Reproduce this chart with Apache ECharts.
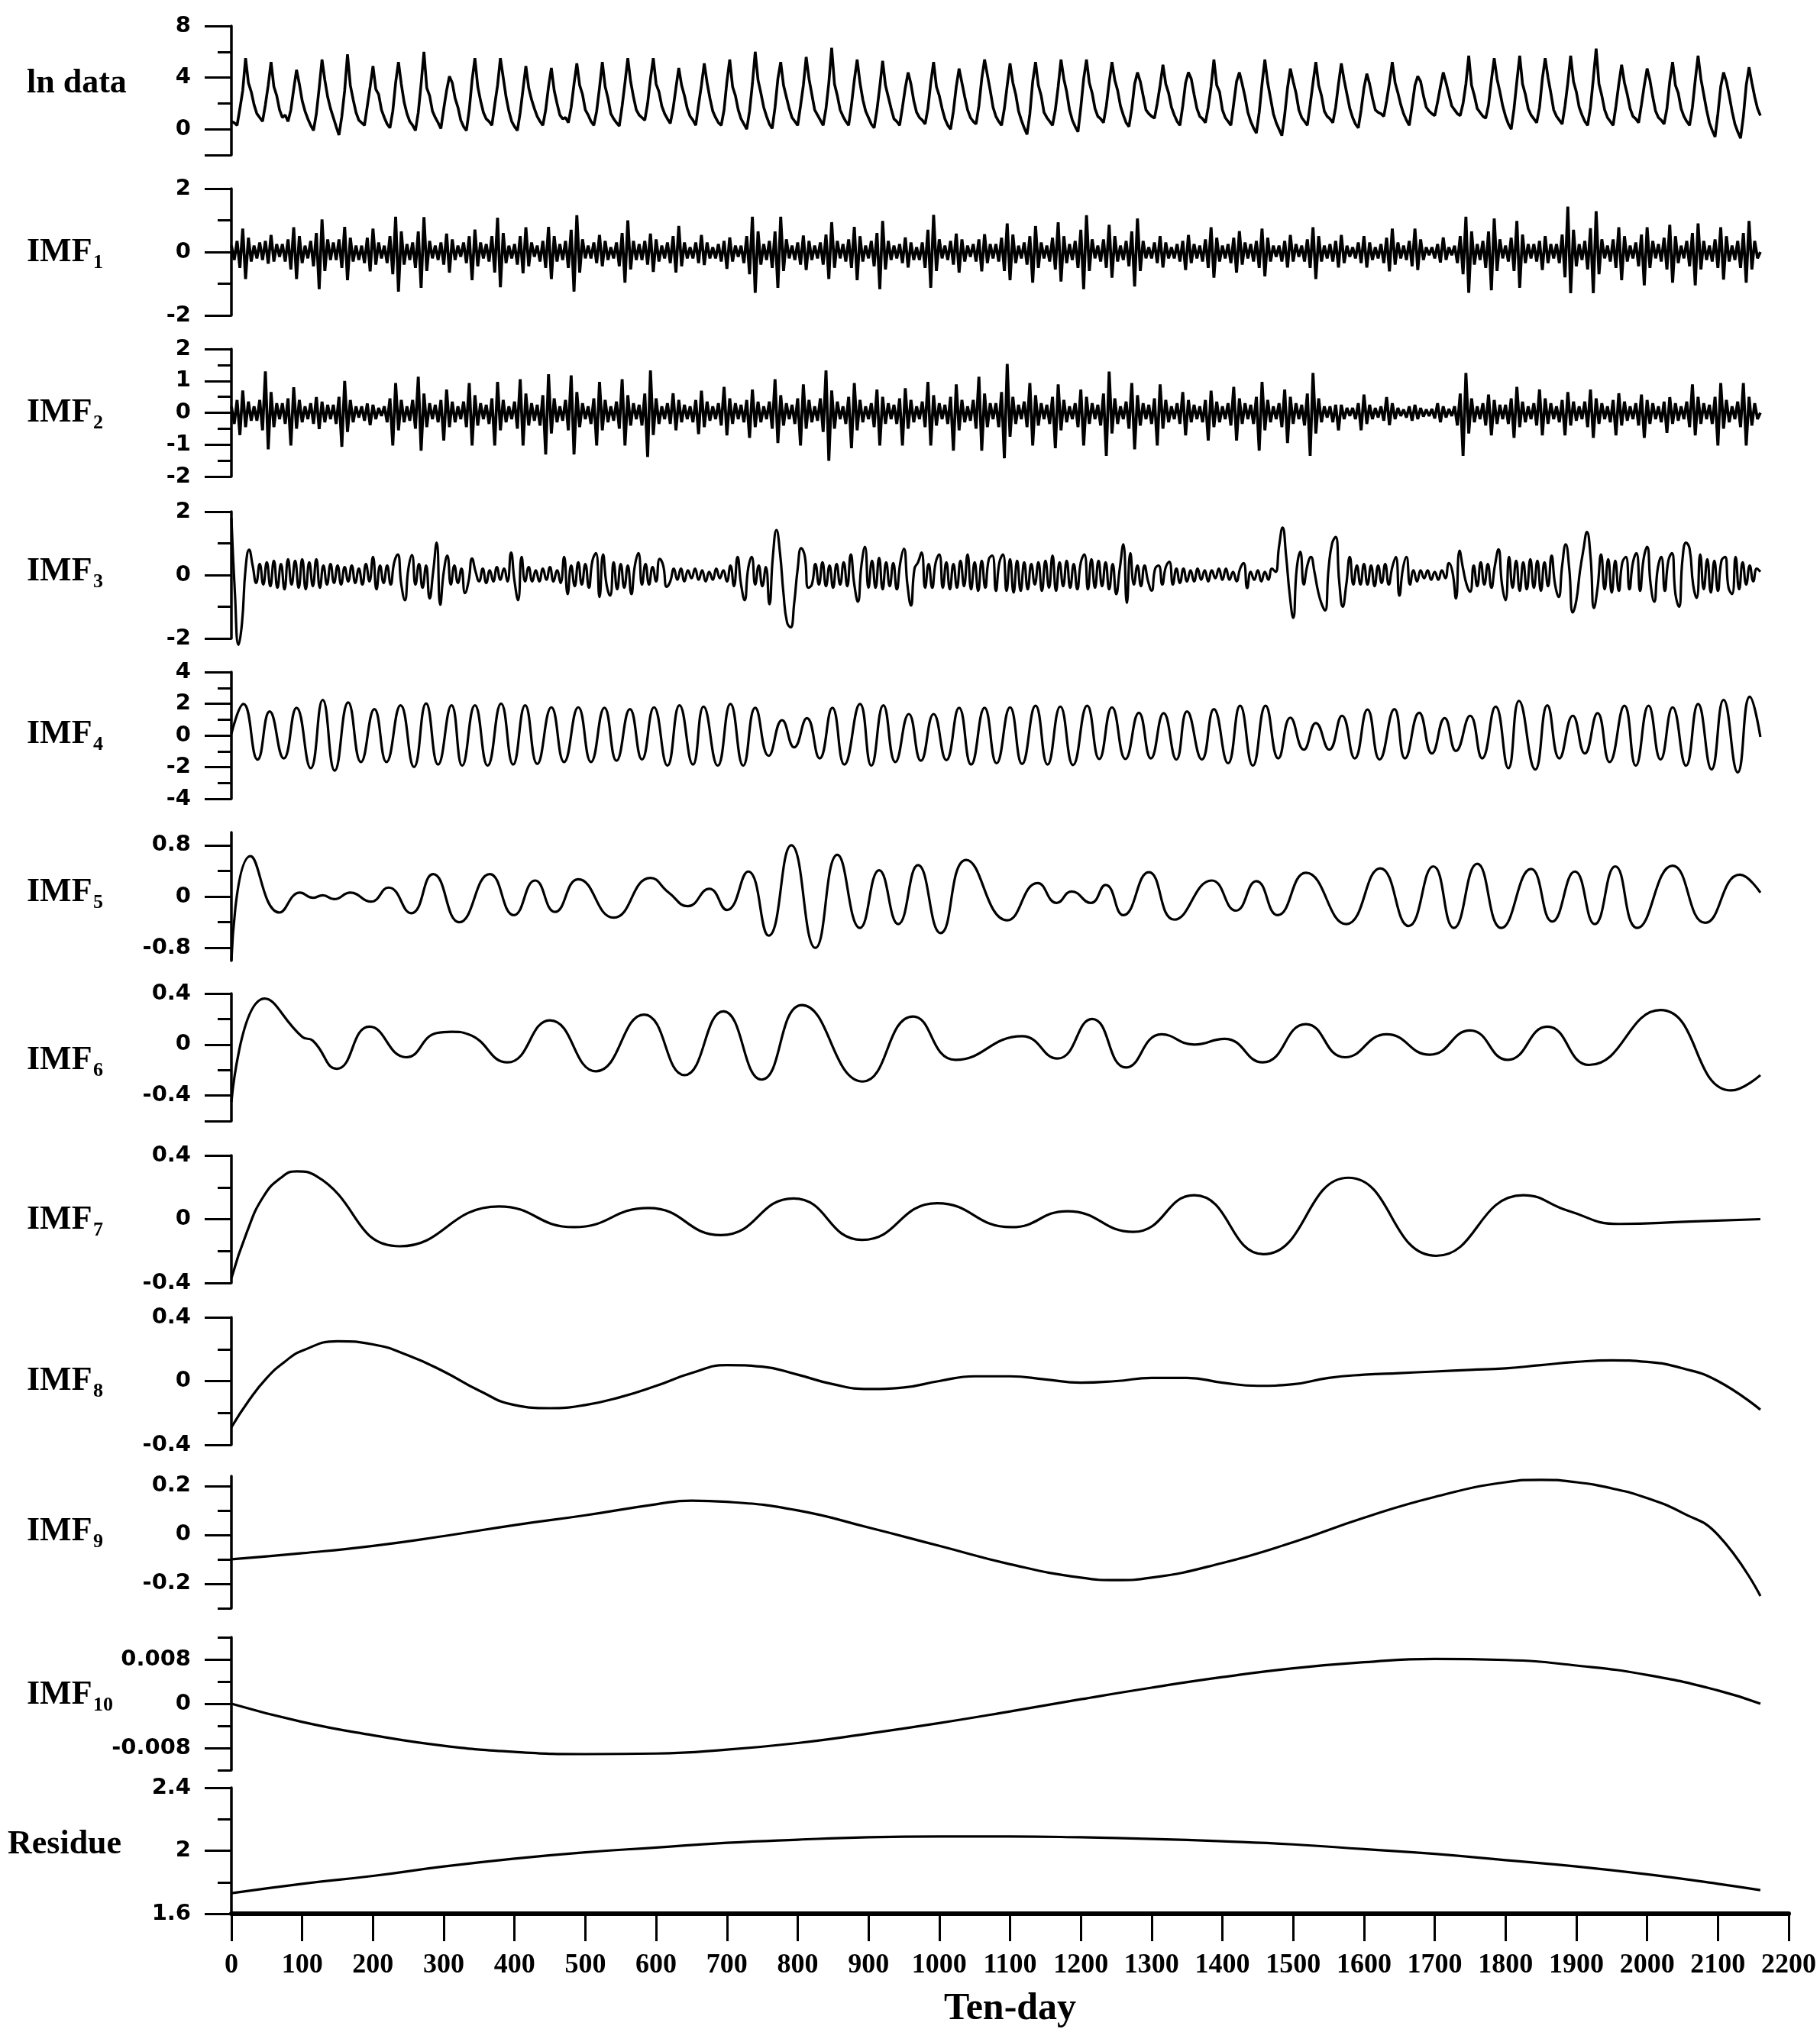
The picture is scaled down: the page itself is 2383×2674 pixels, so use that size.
<!DOCTYPE html>
<html>
<head>
<meta charset="utf-8">
<title>EMD decomposition</title>
<script src="https://cdn.jsdelivr.net/npm/echarts@6/dist/echarts.min.js"></script>
<style>
html, body { margin: 0; padding: 0; background: #fff; }
#chart { width: 2383px; height: 2674px; }
</style>
</head>
<body>
<div id="chart"></div>
<script>
// panel names and subscripts
const panelNames = ['ln data', 'IMF', 'IMF', 'IMF', 'IMF', 'IMF', 'IMF', 'IMF', 'IMF', 'IMF', 'IMF', 'Residue'];
const panelSubs = ['', '1', '2', '3', '4', '5', '6', '7', '8', '9', '10', ''];

// y ranges and ticks (long ticks, short ticks, labelled values)
const yRange = [[-2, 8], [-2, 2], [-2, 2], [-2, 2], [-4, 4], [-1, 1], [-0.6, 0.4], [-0.4, 0.4], [-0.4, 0.4], [-0.3, 0.24], [-0.012, 0.012], [1.6, 2.4]];
const yMajor = [[8, 4, 0, -2], [2, 0, -2], [2, 1, 0, -1, -2], [2, 0, -2], [4, 2, 0, -2, -4], [0.8, 0, -0.8], [0.4, 0, -0.4, -0.6], [0.4, 0, -0.4], [0.4, 0, -0.4], [0.2, 0, -0.2], [0.008, 0, -0.008], [2.4, 2, 1.6]];
const yMinor = [[6, 2], [1, -1], [1.5, 0.5, -0.5, -1.5], [1, -1], [3, 1, -1, -3], [0.4, -0.4], [0.2, -0.2], [0.2, -0.2], [0.2, -0.2], [0.1, -0.1, -0.3], [0.012, 0.004, -0.004, -0.012], [2.2, 1.8]];
const yLabels = [[8, 4, 0], [2, 0, -2], [2, 1, 0, -1, -2], [2, 0, -2], [4, 2, 0, -2, -4], [0.8, 0, -0.8], [0.4, 0, -0.4], [0.4, 0, -0.4], [0.4, 0, -0.4], [0.2, 0, -0.2], [0.008, 0, -0.008], [2.4, 2, 1.6]];

// sampled every 4 ten-days
const lnStep = 4;
const lnData = [
0.6,0.5,0.3,1.6,3.0,5.5,3.6,2.9,1.9, 1.2,0.9,0.6,1.9,3.4,5.2,3.3,2.6,1.5,
0.9,1.1,0.6,1.5,3.1,4.6,3.5,2.2,1.4, 0.8,0.3,-0.1,1.2,3.2,5.4,3.8,2.5,1.6,
0.9,0.2,-0.45,1.0,3.0,5.8,3.4,2.3,1.3, 0.7,0.5,0.3,1.8,3.3,4.9,3.1,2.7,1.5,
0.9,0.4,0.1,1.4,3.6,5.2,3.5,2.1,1.2, 0.6,0.3,-0.1,1.3,3.5,6.0,3.2,2.6,1.4,
0.9,0.5,0.05,1.6,3.0,4.1,3.6,2.4,1.7, 0.7,0.2,-0.1,1.5,3.8,5.5,3.3,2.2,1.3,
0.8,0.6,0.3,1.9,3.4,5.5,4.0,2.5,1.4, 0.6,0.2,-0.1,1.3,3.1,4.9,3.2,2.3,1.6,
1.0,0.6,0.3,1.5,3.3,4.75,3.0,2.0,1.1, 0.8,0.9,0.5,1.7,3.5,5.1,3.4,2.7,1.5,
1.1,0.6,0.3,1.4,3.2,5.2,3.3,2.4,1.2, 0.8,0.5,0.25,1.8,3.6,5.5,3.7,2.5,1.5,
1.1,0.9,0.7,2.0,3.9,5.5,3.5,2.9,1.8, 1.2,0.8,0.45,1.6,3.2,4.75,3.4,2.6,1.6,
1.0,0.7,0.3,1.9,3.4,5.1,3.6,2.4,1.4, 0.9,0.5,0.3,1.5,3.7,5.4,3.3,2.6,1.5,
0.8,0.4,0.0,1.4,3.5,6.0,3.8,2.8,1.7, 1.0,0.4,0.05,1.7,3.9,5.2,3.4,2.5,1.6,
0.9,0.6,0.3,1.8,3.4,5.6,3.9,2.7,1.5, 1.1,0.7,0.3,1.6,3.6,6.3,3.5,2.6,1.5,
1.0,0.6,0.3,1.9,3.8,5.4,3.6,2.3,1.4, 0.9,0.4,0.1,1.5,3.3,5.3,3.4,2.5,1.6,
0.8,0.6,0.3,1.7,3.2,4.4,3.5,2.2,1.3, 0.9,0.7,0.4,1.6,3.6,5.2,3.3,2.6,1.6,
0.8,0.3,0.0,1.4,3.3,4.7,3.6,2.5,1.5, 0.9,0.6,0.4,1.8,3.9,5.4,4.2,3.0,1.7,
1.0,0.6,0.3,1.6,3.4,5.1,3.6,2.7,1.4, 0.7,0.1,-0.4,1.2,3.7,5.2,3.4,2.6,1.3,
0.9,0.6,0.3,1.5,3.3,5.4,3.9,2.9,1.5, 0.7,0.2,-0.2,1.7,3.9,5.4,3.6,2.8,1.6,
1.0,0.8,0.5,1.8,3.6,5.2,3.8,3.0,1.8, 1.1,0.5,0.2,1.6,3.5,4.4,3.7,2.6,1.5,
1.2,1.0,0.85,2.0,3.4,5.0,3.5,2.8,1.7, 1.1,0.6,0.3,1.8,3.6,4.4,3.9,2.7,1.6,
1.0,0.8,0.5,1.7,3.3,5.4,3.4,2.9,1.5, 0.9,0.6,0.3,2.0,3.7,4.4,3.5,2.5,1.3,
0.6,0.1,-0.3,1.3,3.5,5.4,3.6,2.4,1.2, 0.5,0.0,-0.5,1.1,3.2,4.7,3.7,2.8,1.5,
0.9,0.6,0.3,1.9,3.6,5.2,3.4,2.6,1.4, 1.0,0.8,0.5,1.7,3.5,5.1,3.8,2.7,1.6,
0.9,0.4,0.1,1.5,3.2,4.3,3.5,2.4,1.5, 1.3,1.2,1.0,2.2,3.6,5.2,3.6,2.8,1.9,
1.2,0.7,0.3,1.8,3.4,4.1,3.7,2.6,1.7, 1.4,1.2,1.05,2.1,3.3,4.4,3.6,2.7,1.8,
1.5,1.2,1.05,2.0,3.5,5.7,3.4,2.6,1.6, 1.3,1.0,0.85,1.9,3.8,5.5,3.9,2.9,1.8,
1.0,0.4,0.0,1.6,3.7,5.7,3.5,2.7,1.6, 1.1,0.8,0.5,1.7,3.9,5.5,4.0,2.8,1.5,
1.0,0.7,0.4,1.8,3.6,5.7,3.7,2.9,1.7, 1.1,0.6,0.3,1.7,3.9,6.25,3.5,2.6,1.5,
0.9,0.6,0.3,1.8,3.5,5.0,3.6,2.7,1.6, 1.0,0.8,0.5,1.9,3.4,4.7,3.8,2.5,1.4,
0.9,0.7,0.4,1.6,3.7,5.2,3.4,2.8,1.6, 1.0,0.6,0.3,1.7,3.8,5.7,3.9,2.7,1.5,
0.5,-0.1,-0.6,1.2,3.3,4.4,3.7,2.6,1.4, 0.4,-0.2,-0.7,1.0,3.4,4.8,3.6,2.5,1.6,
1.05
];

const imf1Step = 4;
const imf1 = [
0.2,-0.25,0.35,-0.5,0.74,-0.85,0.45,-0.3,0.2, -0.2,0.3,-0.25,0.35,-0.37,0.54,-0.3,0.25,-0.15,
0.25,-0.3,0.4,-0.55,0.78,-0.85,0.5,-0.35,0.2, -0.2,0.35,-0.45,0.6,-1.17,1.03,-0.6,0.4,-0.25,
0.3,-0.25,0.4,-0.5,0.79,-0.89,0.45,-0.3,0.2, -0.25,0.2,-0.35,0.45,-0.61,0.74,-0.4,0.3,-0.2,
0.2,-0.35,0.5,-0.7,1.11,-1.25,0.65,-0.4,0.25, -0.25,0.3,-0.5,0.65,-1.13,1.1,-0.6,0.35,-0.2,
0.2,-0.25,0.3,-0.4,0.58,-0.65,0.4,-0.25,0.2, -0.15,0.3,-0.35,0.5,-0.89,0.71,-0.45,0.3,-0.2,
0.25,-0.3,0.5,-0.65,1.08,-1.11,0.6,-0.35,0.2, -0.2,0.25,-0.4,0.5,-0.67,0.78,-0.45,0.3,-0.15,
0.2,-0.3,0.35,-0.5,0.79,-0.85,0.5,-0.3,0.25, -0.25,0.35,-0.5,0.7,-1.25,1.16,-0.65,0.4,-0.2,
0.2,-0.2,0.3,-0.35,0.54,-0.45,0.35,-0.25,0.15, -0.2,0.3,-0.45,0.6,-0.97,1.0,-0.55,0.35,-0.25,
0.25,-0.25,0.35,-0.4,0.58,-0.63,0.4,-0.3,0.2, -0.2,0.3,-0.35,0.5,-0.65,0.82,-0.45,0.3,-0.2,
0.15,-0.2,0.3,-0.35,0.54,-0.41,0.3,-0.2,0.15, -0.2,0.25,-0.3,0.35,-0.53,0.46,-0.3,0.2,-0.15,
0.2,-0.35,0.5,-0.7,1.11,-1.29,0.65,-0.4,0.25, -0.25,0.35,-0.5,0.65,-1.13,1.11,-0.6,0.4,-0.2,
0.2,-0.25,0.3,-0.4,0.52,-0.57,0.35,-0.25,0.2, -0.2,0.3,-0.4,0.55,-0.85,0.94,-0.5,0.35,-0.2,
0.25,-0.3,0.4,-0.5,0.79,-0.89,0.5,-0.3,0.2, -0.2,0.35,-0.45,0.6,-1.17,0.98,-0.55,0.35,-0.25,
0.2,-0.2,0.25,-0.35,0.46,-0.49,0.3,-0.25,0.15, -0.25,0.3,-0.5,0.7,-1.13,1.17,-0.6,0.4,-0.2,
0.2,-0.25,0.35,-0.4,0.58,-0.65,0.4,-0.3,0.2, -0.15,0.25,-0.3,0.4,-0.61,0.56,-0.35,0.25,-0.2,
0.25,-0.3,0.45,-0.6,0.9,-0.89,0.55,-0.35,0.2, -0.2,0.3,-0.4,0.5,-0.97,0.82,-0.5,0.3,-0.2,
0.2,-0.3,0.45,-0.55,0.94,-0.93,0.5,-0.35,0.25, -0.25,0.35,-0.5,0.7,-1.17,1.16,-0.6,0.4,-0.2,
0.2,-0.3,0.4,-0.5,0.86,-0.81,0.5,-0.3,0.2, -0.25,0.35,-0.45,0.65,-1.09,1.06,-0.6,0.35,-0.2,
0.15,-0.2,0.3,-0.35,0.5,-0.49,0.3,-0.2,0.15, -0.2,0.25,-0.3,0.35,-0.57,0.54,-0.35,0.25,-0.2,
0.2,-0.3,0.4,-0.5,0.78,-0.81,0.45,-0.3,0.2, -0.2,0.25,-0.35,0.45,-0.65,0.66,-0.4,0.3,-0.2,
0.25,-0.3,0.35,-0.5,0.74,-0.77,0.45,-0.3,0.2, -0.15,0.2,-0.3,0.35,-0.49,0.54,-0.3,0.25,-0.15,
0.2,-0.3,0.4,-0.5,0.78,-0.85,0.5,-0.3,0.2, -0.2,0.25,-0.3,0.35,-0.49,0.54,-0.35,0.2,-0.15,
0.15,-0.2,0.3,-0.35,0.5,-0.49,0.3,-0.25,0.15, -0.2,0.25,-0.35,0.45,-0.61,0.74,-0.4,0.3,-0.2,
0.2,-0.25,0.35,-0.45,0.74,-0.57,0.4,-0.25,0.15, -0.1,0.15,-0.2,0.25,-0.33,0.46,-0.25,0.15,-0.1,
0.2,-0.35,0.5,-0.7,1.11,-1.29,0.65,-0.4,0.25, -0.25,0.35,-0.5,0.65,-1.21,1.06,-0.6,0.4,-0.2,
0.2,-0.3,0.45,-0.6,0.98,-1.13,0.55,-0.35,0.25, -0.2,0.25,-0.3,0.35,-0.57,0.5,-0.35,0.25,-0.2,
0.25,-0.35,0.55,-0.8,1.43,-1.3,0.7,-0.45,0.25, -0.25,0.35,-0.55,0.75,-1.3,1.29,-0.7,0.4,-0.2,
0.2,-0.3,0.4,-0.5,0.78,-0.89,0.5,-0.3,0.2, -0.2,0.3,-0.45,0.55,-1.05,0.78,-0.5,0.35,-0.2,
0.25,-0.3,0.45,-0.55,0.86,-0.97,0.5,-0.35,0.2, -0.2,0.35,-0.45,0.6,-1.05,0.9,-0.55,0.35,-0.25,
0.2,-0.3,0.4,-0.5,0.78,-0.87,0.5,-0.3,0.2, -0.25,0.35,-0.5,0.6,-0.97,0.98,-0.55,0.35,-0.2,
0
];

const imf2Step = 4;
const imf2 = [
0.2,-0.35,0.4,-0.7,0.7,-0.45,0.35,-0.25,0.2, -0.25,0.4,-0.55,1.3,-1.15,0.65,-0.45,0.3,-0.2,
0.3,-0.35,0.45,-1.03,0.8,-0.5,0.4,-0.3,0.2, -0.2,0.3,-0.35,0.49,-0.51,0.35,-0.3,0.25,-0.2,
0.25,-0.35,0.5,-1.07,1.0,-0.6,0.4,-0.3,0.2, -0.15,0.2,-0.25,0.29,-0.39,0.25,-0.2,0.15,-0.1,
0.2,-0.3,0.45,-1.03,0.93,-0.55,0.4,-0.3,0.2, -0.25,0.4,-0.5,1.13,-1.19,0.6,-0.45,0.3,-0.2,
0.25,-0.3,0.4,-0.87,0.73,-0.45,0.35,-0.3,0.2, -0.2,0.35,-0.45,0.93,-1.03,0.55,-0.4,0.3,-0.2,
0.25,-0.35,0.45,-1.03,0.97,-0.55,0.4,-0.3,0.2, -0.2,0.35,-0.5,1.05,-1.03,0.6,-0.4,0.3,-0.25,
0.25,-0.4,0.55,-1.31,1.21,-0.65,0.45,-0.3,0.2, -0.25,0.4,-0.55,1.17,-1.31,0.65,-0.45,0.3,-0.2,
0.2,-0.35,0.45,-1.03,0.97,-0.55,0.4,-0.3,0.2, -0.25,0.35,-0.5,1.05,-1.03,0.55,-0.4,0.3,-0.2,
0.25,-0.4,0.6,-1.39,1.33,-0.7,0.45,-0.35,0.2, -0.2,0.3,-0.35,0.61,-0.55,0.4,-0.3,0.25,-0.2,
0.2,-0.3,0.4,-0.67,0.69,-0.45,0.35,-0.25,0.2, -0.2,0.3,-0.4,0.81,-0.71,0.45,-0.35,0.3,-0.2,
0.25,-0.3,0.4,-0.79,0.73,-0.45,0.35,-0.3,0.2, -0.2,0.35,-0.5,1.05,-0.95,0.55,-0.4,0.3,-0.2,
0.25,-0.35,0.45,-1.03,0.89,-0.5,0.4,-0.3,0.2, -0.25,0.45,-0.6,1.33,-1.51,0.7,-0.5,0.35,-0.2,
0.2,-0.35,0.5,-1.11,0.93,-0.55,0.4,-0.3,0.2, -0.2,0.3,-0.45,0.73,-1.03,0.5,-0.35,0.3,-0.2,
0.25,-0.35,0.45,-1.03,0.77,-0.5,0.4,-0.3,0.2, -0.2,0.35,-0.45,0.97,-1.03,0.55,-0.4,0.3,-0.2,
0.25,-0.35,0.5,-1.19,0.89,-0.55,0.4,-0.3,0.2, -0.25,0.4,-0.5,1.13,-1.19,0.6,-0.45,0.3,-0.2,
0.3,-0.45,0.65,-1.43,1.53,-0.75,0.5,-0.35,0.25, -0.2,0.35,-0.45,0.93,-1.03,0.55,-0.4,0.3,-0.2,
0.25,-0.35,0.5,-1.11,0.89,-0.55,0.4,-0.3,0.2, -0.2,0.3,-0.45,0.73,-1.03,0.5,-0.35,0.3,-0.2,
0.25,-0.4,0.6,-1.35,1.29,-0.65,0.45,-0.35,0.2, -0.2,0.35,-0.5,0.93,-1.15,0.55,-0.4,0.3,-0.2,
0.25,-0.35,0.45,-1.03,0.89,-0.5,0.4,-0.3,0.2, -0.2,0.3,-0.35,0.65,-0.71,0.4,-0.3,0.25,-0.2,
0.2,-0.3,0.4,-0.87,0.69,-0.45,0.35,-0.3,0.2, -0.2,0.3,-0.4,0.81,-0.87,0.45,-0.35,0.3,-0.2,
0.25,-0.35,0.5,-1.19,0.97,-0.55,0.4,-0.3,0.2, -0.2,0.3,-0.45,0.73,-0.95,0.5,-0.35,0.3,-0.2,
0.25,-0.4,0.6,-1.35,1.25,-0.65,0.45,-0.3,0.2, -0.15,0.2,-0.3,0.25,-0.55,0.25,-0.2,0.15,-0.1,
0.15,-0.2,0.3,-0.55,0.57,-0.35,0.25,-0.2,0.15, -0.15,0.2,-0.25,0.49,-0.39,0.3,-0.2,0.15,-0.1,
0.1,-0.15,0.2,-0.25,0.25,-0.2,0.15,-0.12,0.1, -0.1,0.12,-0.18,0.3,-0.3,0.2,-0.15,0.12,-0.1,
0.2,-0.4,0.6,-1.35,1.25,-0.65,0.45,-0.3,0.2, -0.2,0.3,-0.4,0.57,-0.71,0.4,-0.35,0.25,-0.2,
0.25,-0.35,0.45,-0.79,0.81,-0.45,0.35,-0.3,0.2, -0.2,0.3,-0.4,0.73,-0.71,0.45,-0.35,0.3,-0.2,
0.2,-0.3,0.4,-0.71,0.65,-0.4,0.35,-0.25,0.2, -0.2,0.35,-0.45,0.73,-0.79,0.45,-0.35,0.3,-0.2,
0.2,-0.3,0.4,-0.71,0.61,-0.4,0.35,-0.25,0.2, -0.2,0.3,-0.4,0.57,-0.79,0.4,-0.35,0.3,-0.2,
0.2,-0.3,0.35,-0.63,0.49,-0.35,0.3,-0.25,0.2, -0.2,0.35,-0.45,0.89,-0.71,0.5,-0.35,0.3,-0.2,
0.25,-0.35,0.5,-1.03,0.93,-0.5,0.4,-0.3,0.2, -0.2,0.35,-0.45,0.93,-1.03,0.5,-0.4,0.3,-0.2,
0
];

const imf3Step = 5;
const imf3 = [
1.8,-0.6,-2.2,-1.5,0.2,0.8,0.3,-0.25,0.35,-0.3,0.4,-0.35,0.45,-0.4,0.35,-0.45,0.5,-0.3,0.45,-0.4,
0.5,-0.45,0.4,-0.35,0.5,-0.4,0.3,-0.3,0.35,-0.25,0.3,-0.3,0.25,-0.2,0.3,-0.25,0.2,-0.3,0.35,-0.2,
0.57,-0.45,0.3,-0.25,0.3,-0.3,0.4,0.65,-0.3,-0.79,0.2,0.63,-0.3,0.35,-0.4,0.3,-0.74,0.1,1.02,-0.94,
0.1,0.61,-0.3,0.3,-0.25,0.2,-0.57,-0.2,0.52,0.1,-0.2,0.2,-0.25,0.15,-0.2,0.25,-0.15,0.2,-0.2,0.71,
-0.2,-0.79,0.57,-0.2,0.25,-0.2,0.15,-0.2,0.2,-0.15,0.25,-0.2,0.15,-0.25,0.57,-0.6,0.3,-0.35,0.4,-0.3,
0.35,-0.4,0.45,0.69,-0.69,0.65,-0.3,-0.65,0.4,-0.45,0.35,-0.4,0.3,-0.6,0.3,0.69,-0.3,0.35,-0.3,0.25,
-0.2,0.51,0.3,-0.37,-0.2,0.2,-0.15,0.2,-0.2,0.15,-0.1,0.2,-0.15,0.15,-0.2,0.1,-0.15,0.2,-0.1,0.15,
-0.2,0.3,-0.35,0.57,-0.3,-0.79,0.2,0.57,-0.3,0.3,-0.35,0.25,-0.92,0.6,1.42,0.7,-0.6,-1.5,-1.65,-0.9,
0.2,0.85,0.6,-0.4,-0.3,0.35,-0.3,0.4,-0.35,0.3,-0.4,0.35,-0.3,0.4,-0.35,0.65,-0.3,-0.84,0.3,0.89,
-0.4,0.45,-0.4,0.54,-0.45,0.4,-0.35,0.38,-0.45,0.4,0.83,-0.3,-0.96,0.2,0.4,0.71,-0.4,0.35,-0.4,0.4,
0.65,-0.4,0.4,-0.45,0.35,-0.4,0.45,-0.35,0.65,-0.45,0.4,-0.5,0.45,-0.4,0.5,0.61,-0.5,0.4,0.65,-0.5,
0.5,-0.55,0.45,-0.5,0.4,-0.45,0.35,-0.3,0.4,-0.5,0.45,-0.4,0.61,-0.5,0.4,-0.35,0.45,-0.4,0.35,-0.45,
0.4,0.65,-0.45,0.5,-0.4,0.45,-0.35,0.4,-0.45,0.35,-0.6,0.2,0.97,-0.88,0.69,-0.3,0.3,-0.35,0.3,-0.2,
-0.49,0.2,0.3,-0.3,0.25,0.42,-0.3,0.2,-0.25,0.2,-0.2,0.15,-0.2,0.2,-0.15,0.15,-0.2,0.15,-0.1,0.2,
-0.15,0.2,-0.15,0.1,-0.2,0.2,0.38,-0.41,0.1,-0.15,0.15,-0.2,0.1,-0.15,0.2,0.1,0.9,1.5,0.6,-0.6,
-1.35,0.2,0.73,-0.3,0.3,0.57,0.1,-0.5,-0.9,-1.12,0.2,1.0,1.2,-0.2,-1.0,-0.3,0.57,-0.3,0.3,-0.3,
0.35,-0.3,0.3,-0.35,0.3,-0.25,0.35,-0.3,0.25,0.57,-0.65,0.2,0.57,-0.3,0.15,-0.2,0.15,-0.1,0.15,-0.15,
0.1,-0.15,0.15,-0.1,0.38,0.1,-0.74,0.77,0.2,-0.3,-0.53,0.3,-0.35,0.4,-0.3,0.35,-0.4,0.3,0.81,-0.3,
-0.79,0.57,-0.4,0.45,-0.5,0.4,-0.45,0.5,-0.4,0.45,-0.5,0.4,-0.35,0.61,-0.3,-0.69,0.3,0.97,0.2,-1.18,
-0.8,0.1,0.8,1.36,0.6,-1.04,-0.4,0.65,-0.45,0.5,-0.55,0.45,-0.5,0.4,0.57,-0.45,0.4,0.69,-0.5,0.5,
0.89,-0.3,-0.84,0.2,0.57,-0.5,0.45,0.69,-0.6,-1.0,0.5,1.02,0.83,-0.3,-0.72,0.65,-0.45,0.5,-0.55,0.45,
-0.5,0.45,0.57,-0.4,-0.6,0.57,-0.45,0.4,-0.3,0.3,-0.2,0.2,0.1
];

// [ten-day, value] turning points for the smoother modes
const imf4 = [[0,0.1],[17,1.98],[37,-1.52],[54,1.51],[74,-1.45],[92,1.74],[112,-2.07],[129,2.24],[146,-2.22],[165,2.08],[183,-1.68],[202,1.66],[219,-1.68],[239,1.9],[258,-1.99],[275,2.02],[292,-1.84],[311,1.9],[326,-1.91],[344,1.9],[362,-1.91],[381,2.01],[398,-1.84],[415,1.9],[432,-1.8],[452,1.77],[470,-1.68],[490,1.77],[508,-1.68],[527,1.74],[544,-1.6],[563,1.66],[580,-1.52],[597,1.77],[616,-1.91],[633,1.9],[652,-1.84],[667,1.82],[687,-1.91],[705,1.98],[723,-1.91],[740,1.74],[759,-1.29],[778,0.96],[795,-0.75],[813,1.09],[831,-1.45],[849,1.74],[866,-1.84],[888,1.98],[904,-1.91],[921,1.9],[938,-1.68],[957,1.35],[974,-1.6],[992,1.35],[1010,-1.56],[1028,1.74],[1045,-1.84],[1064,1.74],[1081,-1.76],[1100,1.77],[1117,-1.8],[1136,1.87],[1153,-1.84],[1171,1.82],[1189,-1.87],[1209,1.87],[1226,-1.49],[1244,1.77],[1263,-1.49],[1282,1.43],[1299,-1.45],[1317,1.4],[1335,-1.52],[1350,1.51],[1371,-1.52],[1388,1.66],[1408,-1.76],[1425,1.87],[1443,-1.91],[1461,1.87],[1479,-1.45],[1496,1.12],[1515,-0.9],[1532,0.78],[1551,-0.9],[1569,1.24],[1587,-1.45],[1605,1.63],[1622,-1.52],[1643,1.66],[1658,-1.45],[1678,1.43],[1696,-1.14],[1714,1.09],[1730,-0.98],[1750,1.24],[1767,-1.45],[1786,1.82],[1804,-2.07],[1819,2.18],[1842,-2.15],[1859,1.9],[1876,-1.45],[1895,1.24],[1912,-1.14],[1930,1.4],[1947,-1.68],[1968,1.87],[1984,-1.91],[2002,1.87],[2019,-1.52],[2036,1.77],[2055,-1.91],[2072,1.98],[2091,-2.15],[2108,2.24],[2128,-2.33],[2145,2.44],[2160,-0.1]];

const imf5 = [[0,-1.0],[27,0.63],[68,-0.25],[97,0.06],[115,-0.02],[129,0.02],[145,-0.04],[168,0.06],[197,-0.08],[222,0.14],[254,-0.26],[285,0.35],[322,-0.4],[365,0.35],[399,-0.29],[429,0.25],[457,-0.24],[490,0.27],[540,-0.33],[592,0.29],[618,0.06],[645,-0.15],[675,0.12],[700,-0.21],[730,0.39],[759,-0.61],[791,0.8],[825,-0.8],[856,0.65],[888,-0.49],[915,0.41],[942,-0.43],[970,0.49],[1002,-0.57],[1038,0.57],[1096,-0.37],[1139,0.21],[1166,-0.1],[1187,0.08],[1214,-0.1],[1235,0.18],[1260,-0.29],[1296,0.38],[1332,-0.36],[1385,0.25],[1419,-0.22],[1448,0.24],[1478,-0.29],[1518,0.37],[1575,-0.43],[1623,0.44],[1663,-0.46],[1698,0.47],[1727,-0.49],[1760,0.51],[1794,-0.49],[1836,0.43],[1866,-0.39],[1898,0.39],[1926,-0.43],[1955,0.47],[1986,-0.49],[2036,0.48],[2082,-0.41],[2131,0.34],[2160,0.06]];

const imf6 = [[0,-0.45],[47,0.36],[100,0.06],[115,0.03],[149,-0.19],[195,0.14],[247,-0.1],[290,0.09],[311,0.1],[335,0.08],[390,-0.14],[450,0.19],[515,-0.21],[583,0.235],[640,-0.24],[695,0.26],[749,-0.275],[806,0.31],[892,-0.29],[963,0.22],[1023,-0.12],[1117,0.065],[1167,-0.11],[1216,0.2],[1264,-0.18],[1314,0.08],[1360,0.0],[1403,0.045],[1457,-0.14],[1518,0.16],[1573,-0.1],[1632,0.08],[1693,-0.08],[1750,0.11],[1803,-0.12],[1859,0.14],[1918,-0.16],[2019,0.27],[2119,-0.36],[2160,-0.24]];

const imf7 = [[0,-0.37],[22,-0.08],[45,0.14],[70,0.26],[92,0.3],[120,0.27],[238,-0.17],[378,0.08],[484,-0.05],[589,0.07],[692,-0.1],[794,0.13],[891,-0.13],[997,0.1],[1102,-0.05],[1181,0.05],[1274,-0.08],[1360,0.15],[1458,-0.22],[1578,0.26],[1702,-0.23],[1825,0.15],[1890,0.05],[1960,-0.03],[2060,-0.015],[2160,0.0]];

const imf8 = [[0,-0.29],[25,-0.12],[50,0.02],[75,0.12],[100,0.19],[150,0.25],[200,0.23],[250,0.16],[300,0.06],[350,-0.06],[400,-0.15],[450,-0.17],[500,-0.15],[550,-0.1],[600,-0.03],[650,0.05],[700,0.1],[750,0.09],[800,0.04],[850,-0.02],[900,-0.05],[950,-0.04],[1000,0.0],[1050,0.03],[1100,0.03],[1150,0.01],[1200,-0.01],[1250,0.0],[1300,0.02],[1350,0.02],[1400,-0.01],[1450,-0.03],[1500,-0.02],[1550,0.02],[1600,0.04],[1650,0.05],[1700,0.06],[1750,0.07],[1800,0.08],[1850,0.1],[1900,0.12],[1950,0.13],[2000,0.12],[2050,0.08],[2100,0.0],[2160,-0.18]];

const imf9 = [[0,-0.1],[100,-0.075],[200,-0.045],[300,-0.005],[400,0.04],[500,0.08],[600,0.125],[650,0.14],[700,0.135],[800,0.1],[900,0.03],[1000,-0.045],[1100,-0.12],[1200,-0.175],[1250,-0.185],[1300,-0.175],[1400,-0.115],[1500,-0.03],[1600,0.07],[1700,0.155],[1800,0.215],[1850,0.225],[1900,0.215],[1950,0.19],[2000,0.15],[2050,0.09],[2100,0.0],[2160,-0.25]];

const imf10 = [[0,0],[100,-0.0033],[200,-0.0057],[300,-0.0076],[400,-0.0087],[500,-0.0091],[600,-0.009],[700,-0.0083],[800,-0.0071],[900,-0.0054],[1000,-0.0035],[1100,-0.0014],[1200,0.0008],[1300,0.0029],[1400,0.0048],[1500,0.0064],[1600,0.0075],[1700,0.0081],[1800,0.0079],[1900,0.0069],[2000,0.0052],[2100,0.0024],[2160,0.0]];

const residue = [[0,1.73],[100,1.79],[200,1.84],[300,1.9],[400,1.95],[500,1.99],[600,2.02],[700,2.05],[800,2.07],[900,2.085],[1000,2.09],[1100,2.09],[1200,2.085],[1300,2.075],[1400,2.06],[1500,2.04],[1600,2.01],[1700,1.98],[1800,1.94],[1900,1.9],[2000,1.85],[2100,1.79],[2160,1.75]];

function stepped(step, vals) {
    return vals.map((v, i) => [i * step, v]);
}

const seriesData = [
    stepped(lnStep, lnData), stepped(imf1Step, imf1), stepped(imf2Step, imf2), stepped(imf3Step, imf3),
    imf4, imf5, imf6, imf7, imf8, imf9, imf10, residue
];

// layout of the 12 stacked panels (pixels)
const panelTop = [34, 247, 457, 670, 880, 1090, 1301, 1513, 1725, 1933, 2144, 2341];
const panelHeight = [169, 166, 167, 166, 166, 168, 167, 167, 167, 173, 174, 165];
const labelY = [110, 331, 541, 749, 962, 1169, 1389, 1598, 1809, 2006, 2220, 2416];

const chart = echarts.init(document.getElementById('chart'));

const grids = [], xAxes = [], yAxes = [], series = [], graphics = [];
const black = '#000';
const last = panelTop.length - 1;

panelTop.forEach((top, i) => {
    const isLast = i === last;
    grids.push({ left: 303, right: 41, top: top, height: panelHeight[i], outerBoundsMode: 'none' });

    xAxes.push({
        type: 'value', gridIndex: i, min: 0, max: 2200, interval: 100,
        show: isLast,
        axisLine: { show: isLast, onZero: false, lineStyle: { color: black, width: 6 } },
        axisTick: { show: isLast, length: 36, lineStyle: { color: black, width: 3 } },
        axisLabel: {
            show: isLast, margin: 50, color: black,
            fontFamily: 'Liberation Serif', fontWeight: 'bold', fontSize: 36,
            formatter: v => String(v)
        },
        splitLine: { show: false },
        name: isLast ? 'Ten-day' : '',
        nameLocation: 'middle',
        nameGap: 100,
        nameTextStyle: { color: black, fontFamily: 'Liberation Serif', fontWeight: 'bold', fontSize: 50 }
    });

    // long ticks + labels
    yAxes.push({
        type: 'value', gridIndex: i, position: 'left',
        min: yRange[i][0], max: yRange[i][1],
        axisLine: { show: true, onZero: false, lineStyle: { color: black, width: 3.5 } },
        axisTick: { show: true, customValues: yMajor[i], length: 35, lineStyle: { color: black, width: 3 } },
        axisLabel: {
            customValues: yLabels[i], margin: 53, color: black,
            fontFamily: 'DejaVu Sans', fontWeight: 'bold', fontSize: 29,
            formatter: v => String(v)
        },
        splitLine: { show: false }
    });
    // short ticks
    yAxes.push({
        type: 'value', gridIndex: i, position: 'left',
        min: yRange[i][0], max: yRange[i][1],
        axisLine: { show: false },
        axisTick: { show: true, customValues: yMinor[i], length: 18, lineStyle: { color: black, width: 3 } },
        axisLabel: { show: false },
        splitLine: { show: false }
    });

    const noisy = i < 3;
    series.push({
        type: 'line',
        xAxisIndex: i,
        yAxisIndex: 2 * i,
        data: seriesData[i],
        showSymbol: false,
        smooth: noisy ? false : 0.5,
        clip: i !== 3,
        lineStyle: { color: black, width: i === 0 ? 3.6 : (noisy ? 3.8 : 3.2) },
        silent: true
    });

    graphics.push({
        type: 'text',
        x: i === last ? 10 : 35,
        y: labelY[i],
        style: {
            text: panelNames[i], fill: black,
            fontFamily: 'Liberation Serif', fontWeight: 'bold', fontSize: 44,
            verticalAlign: 'middle', textVerticalAlign: 'middle'
        }
    });
    if (panelSubs[i]) {
        graphics.push({
            type: 'text',
            x: 122,
            y: labelY[i] + 13,
            style: {
                text: panelSubs[i], fill: black,
                fontFamily: 'Liberation Serif', fontWeight: 'bold', fontSize: 26,
                verticalAlign: 'middle', textVerticalAlign: 'middle'
            }
        });
    }
});

chart.setOption({
    backgroundColor: '#fff',
    animation: false,
    grid: grids,
    xAxis: xAxes,
    yAxis: yAxes,
    series: series,
    graphic: graphics
});
</script>
</body>
</html>
